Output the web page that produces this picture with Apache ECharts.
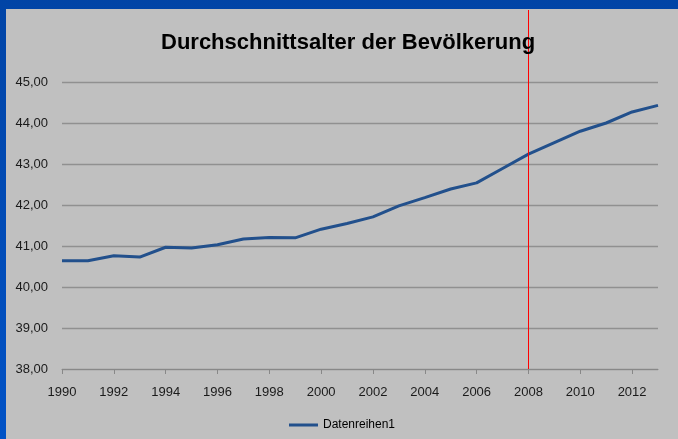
<!DOCTYPE html>
<html>
<head>
<meta charset="utf-8">
<script src="https://cdn.jsdelivr.net/npm/echarts@6/dist/echarts.min.js"></script>
<style>
  html, body { margin: 0; padding: 0; width: 678px; height: 439px; overflow: hidden; }
  body { background: linear-gradient(to bottom, #0044a6, #0052c6); position: relative; }
  #chart { position: absolute; left: 6px; top: 9px; width: 672px; height: 430px; background: #c0c0c0; }
</style>
</head>
<body>
<div id="chart"></div>
<script>
// Jahre
const years = [1990, 1991, 1992, 1993, 1994, 1995, 1996, 1997, 1998, 1999, 2000, 2001,
  2002, 2003, 2004, 2005, 2006, 2007, 2008, 2009, 2010, 2011, 2012, 2013];
// Durchschnittsalter
const avgAge = [40.64, 40.64, 40.76, 40.73, 40.97, 40.95, 41.03, 41.17, 41.21, 41.20, 41.41, 41.55,
  41.71, 41.98, 42.18, 42.39, 42.54, 42.89, 43.24, 43.52, 43.80, 44.00, 44.27, 44.43];
const markYear = 2008;
const seriesName = 'Datenreihen1';
const titleText = 'Durchschnittsalter der Bevölkerung';

const chart = echarts.init(document.getElementById('chart'));

const font = 'Liberation Sans, Arial, sans-serif';
const gridPos = { left: 56, right: 20, bottom: 70 };

chart.setOption({
  animation: false,
  backgroundColor: 'transparent',
  title: {
    text: titleText,
    left: 150,
    top: 18,
    textStyle: { fontFamily: font, fontSize: 22, fontWeight: 'bold', color: '#000' }
  },
  legend: {
    bottom: 3,
    left: 'center',
    icon: 'rect',
    itemWidth: 29,
    itemHeight: 3,
    itemGap: 6,
    textStyle: { fontFamily: font, fontSize: 12, color: '#000' },
    data: [seriesName]
  },
  grid: [
    { ...gridPos, top: 73 },
    { ...gridPos, top: 1 }
  ],
  xAxis: [
    {
      gridIndex: 0,
      type: 'value',
      min: 1990,
      max: 2013,
      interval: 2,
      axisLine: { lineStyle: { color: '#888', width: 1 } },
      axisTick: { show: true, length: 5, lineStyle: { color: '#888' } },
      axisLabel: {
        margin: 17,
        fontFamily: font, fontSize: 13, color: '#1a1a1a',
        formatter: v => String(v),
        showMaxLabel: false
      },
      splitLine: { show: false }
    },
    {
      gridIndex: 1,
      type: 'value',
      min: 1990,
      max: 2013,
      show: false
    }
  ],
  yAxis: [
    {
      gridIndex: 0,
      type: 'value',
      min: 38,
      max: 45,
      interval: 1,
      axisLine: { show: false },
      axisTick: { show: false },
      axisLabel: {
        margin: 14,
        fontFamily: font, fontSize: 13, color: '#1a1a1a',
        formatter: v => v.toFixed(2).replace('.', ',')
      },
      splitLine: { lineStyle: { color: '#909090', width: 1.3 } }
    },
    {
      gridIndex: 1,
      type: 'value',
      min: 0,
      max: 1,
      show: false
    }
  ],
  series: [
    {
      name: seriesName,
      type: 'line',
      xAxisIndex: 0,
      yAxisIndex: 0,
      symbol: 'none',
      lineStyle: { color: '#22508c', width: 3 },
      itemStyle: { color: '#22508c' },
      data: years.map((y, i) => [y, avgAge[i]]),
      z: 3
    },
    {
      type: 'line',
      xAxisIndex: 1,
      yAxisIndex: 1,
      data: [],
      z: 4,
      markLine: {
        silent: true,
        symbol: 'none',
        label: { show: false },
        lineStyle: { type: 'solid', color: '#ff0000', width: 1 },
        data: [{ xAxis: markYear }]
      }
    }
  ]
});
</script>
</body>
</html>
